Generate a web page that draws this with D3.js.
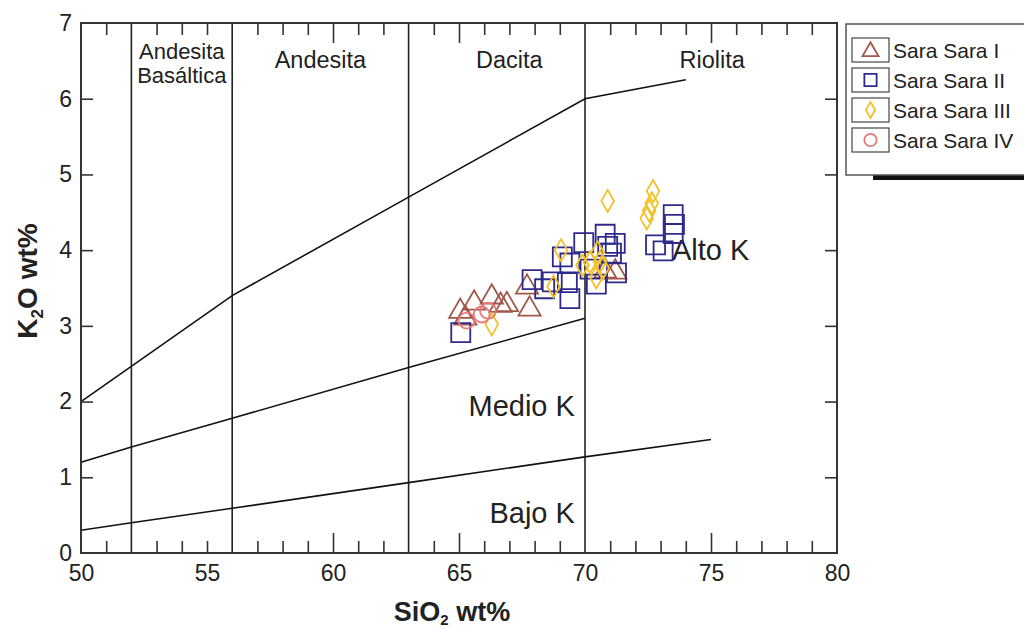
<!DOCTYPE html>
<html>
<head>
<meta charset="utf-8">
<script src="https://cdn.jsdelivr.net/npm/d3@7"></script>
<style>
  html, body { margin: 0; padding: 0; background: #fff; }
  svg { display: block; font-family: "Liberation Sans", Arial, sans-serif; }
</style>
</head>
<body>
<svg id="chart" width="1024" height="629"></svg>
<script>
// SiO2 vs K2O classification (Peccerillo & Taylor style fields)
const seriesNames = ["Sara Sara I", "Sara Sara II", "Sara Sara III", "Sara Sara IV"];

// [SiO2, K2O]
const saraSaraI = [
  [65.05, 3.19], [65.25, 3.10], [65.6, 3.30], [66.3, 3.38], [66.65, 3.27],
  [66.9, 3.28], [67.7, 3.51], [67.8, 3.22], [71.2, 3.71], [70.8, 3.72]
];
const saraSaraII = [
  [65.07, 2.91], [67.9, 3.61], [68.4, 3.49], [68.7, 3.58], [69.3, 3.57],
  [69.4, 3.36], [69.1, 3.91], [69.4, 3.83], [69.95, 4.10], [70.8, 4.21],
  [71.2, 4.09], [71.05, 3.96], [70.9, 4.05], [71.25, 3.70], [70.45, 3.55],
  [70.2, 3.75], [72.8, 4.07], [73.1, 3.99], [73.5, 4.47], [73.55, 4.34],
  [73.5, 4.22]
];
const saraSaraIII = [
  [66.3, 3.02], [68.75, 3.52], [69.05, 4.00], [69.9, 3.80], [70.2, 3.84],
  [70.5, 3.97], [70.45, 3.64], [70.7, 3.76], [70.6, 3.85], [70.9, 4.65],
  [72.7, 4.78], [72.65, 4.62], [72.55, 4.52], [72.45, 4.42]
];
const saraSaraIV = [
  [65.3, 3.07], [65.9, 3.15], [66.15, 3.20]
];

// Field boundaries
const shoshoniticLine = [[50, 2.0], [56, 3.4], [63, 4.7], [70, 6.0], [74, 6.25]];
const highKLine = [[50, 1.2], [52, 1.4], [56, 1.78], [63, 2.45], [70, 3.1]];
const lowKLine = [[50, 0.3], [52, 0.4], [56, 0.59], [63, 0.93], [70, 1.27], [75, 1.5]];
const rockDividers = [52, 56, 63, 70];

// Field names: [text lines, SiO2, K2O, anchor, font size]
const rockLabels = [
  [["Andesita", "Basáltica"], 54, 6.525, "middle", 22],
  [["Andesita"], 59.5, 6.41, "middle", 23.5],
  [["Dacita"], 67.0, 6.41, "middle", 23.5],
  [["Riolita"], 75.05, 6.41, "middle", 23.5]
];
const potassiumLabels = [
  ["Alto K", 73.45, 3.87, "start"],
  ["Medio K", 69.6, 1.81, "end"],
  ["Bajo K", 69.6, 0.40, "end"]
];

const xTickLabels = [50, 55, 60, 65, 70, 75, 80];
const yTickLabels = [0, 1, 2, 3, 4, 5, 6, 7];

const svg = d3.select("#chart");
const x = d3.scaleLinear().domain([50, 80]).range([81, 837]);
const y = d3.scaleLinear().domain([0, 7]).range([553, 23]);

const colors = ["#a0584a", "#2f2a8a", "#f2c12a", "#e8787a"];
const symbols = [
  d3.symbol().type(d3.symbolTriangle).size(215),
  d3.symbol().type(d3.symbolSquare).size(361),
  d3.symbol().type(d3.symbolDiamond).size(140),
  d3.symbol().type(d3.symbolCircle).size(200)
];
const legendSymbols = [
  d3.symbol().type(d3.symbolTriangle).size(110),
  d3.symbol().type(d3.symbolSquare).size(150),
  d3.symbol().type(d3.symbolDiamond).size(75),
  d3.symbol().type(d3.symbolCircle).size(120)
];

const plot = svg.append("g");

// rock-type dividers
plot.selectAll("line.divider").data(rockDividers).join("line")
  .attr("class", "divider")
  .attr("x1", d => x(d)).attr("x2", d => x(d))
  .attr("y1", y(0)).attr("y2", y(7))
  .attr("stroke", "#222").attr("stroke-width", 1.6);

// boundary curves
const line = d3.line().x(d => x(d[0])).y(d => y(d[1]));
[shoshoniticLine, highKLine, lowKLine].forEach(pts => {
  plot.append("path").attr("d", line(pts))
    .attr("fill", "none").attr("stroke", "#111").attr("stroke-width", 1.6);
});

// ticks pointing into the plot
const minorX = d3.range(51, 80).filter(v => !rockDividers.includes(v) && ![60, 65, 75].includes(v));
const majorX = [60, 65, 75];
const yTicks = d3.range(1, 7);

function tickAxis(axis, tr) {
  const g = plot.append("g").attr("transform", tr).call(axis);
  g.select(".domain").remove();
  g.selectAll(".tick line").attr("stroke", "#333").attr("stroke-width", 1.6);
  return g;
}
tickAxis(d3.axisBottom(x).tickValues(minorX).tickSizeInner(-12).tickSizeOuter(0).tickFormat(""), `translate(0,${y(0)})`);
tickAxis(d3.axisBottom(x).tickValues(majorX).tickSizeInner(-20).tickSizeOuter(0).tickFormat(""), `translate(0,${y(0)})`);
tickAxis(d3.axisTop(x).tickValues(minorX).tickSizeInner(-12).tickSizeOuter(0).tickFormat(""), `translate(0,${y(7)})`);
tickAxis(d3.axisTop(x).tickValues(majorX).tickSizeInner(-20).tickSizeOuter(0).tickFormat(""), `translate(0,${y(7)})`);
tickAxis(d3.axisLeft(y).tickValues(yTicks).tickSizeInner(-12).tickSizeOuter(0).tickFormat(""), `translate(${x(50)},0)`);
tickAxis(d3.axisRight(y).tickValues(yTicks).tickSizeInner(-12).tickSizeOuter(0).tickFormat(""), `translate(${x(80)},0)`);

// tick labels
const xl = plot.append("g").attr("transform", `translate(0,${y(0)})`)
  .call(d3.axisBottom(x).tickValues(xTickLabels).tickSize(0).tickPadding(12).tickFormat(d3.format("d")));
xl.select(".domain").remove();
xl.selectAll("text").attr("font-size", 23).attr("fill", "#222").attr("font-family", "Liberation Sans, Arial, sans-serif");

const yl = plot.append("g").attr("transform", `translate(${x(50)},0)`)
  .call(d3.axisLeft(y).tickValues(yTickLabels).tickSize(0).tickPadding(9).tickFormat(d3.format("d")));
yl.select(".domain").remove();
yl.selectAll("text").attr("font-size", 23).attr("fill", "#222").attr("font-family", "Liberation Sans, Arial, sans-serif");

// frame
plot.append("rect")
  .attr("x", x(50)).attr("y", y(7))
  .attr("width", x(80) - x(50)).attr("height", y(0) - y(7))
  .attr("fill", "none").attr("stroke", "#333").attr("stroke-width", 2);

// field labels
rockLabels.forEach(([lines, sx, ky, anchor, fs]) => {
  const t = plot.append("text")
    .attr("x", x(sx)).attr("y", y(ky))
    .attr("text-anchor", anchor).attr("font-size", fs).attr("fill", "#222");
  lines.forEach((s, i) => t.append("tspan").attr("x", x(sx)).attr("dy", i ? 24 : 0).text(s));
});
potassiumLabels.forEach(([s, sx, ky, anchor]) => {
  plot.append("text").attr("x", x(sx)).attr("y", y(ky))
    .attr("text-anchor", anchor).attr("font-size", 29).attr("fill", "#222").text(s);
});

// samples
const allSeries = [saraSaraI, saraSaraII, saraSaraIII, saraSaraIV];
allSeries.forEach((pts, i) => {
  plot.append("g").selectAll("path").data(pts).join("path")
    .attr("d", symbols[i])
    .attr("transform", d => `translate(${x(d[0])},${y(d[1])})`)
    .attr("fill", "none").attr("stroke", colors[i]).attr("stroke-width", 1.8);
});

// axis titles
const xt = svg.append("text").attr("x", 452).attr("y", 621)
  .attr("text-anchor", "middle").attr("font-size", 27).attr("font-weight", "bold").attr("fill", "#222");
xt.append("tspan").text("SiO");
xt.append("tspan").attr("font-size", 15).attr("dy", 4).text("2");
xt.append("tspan").attr("dy", -4).text(" wt%");

const yt = svg.append("text").attr("transform", "translate(37,281) rotate(-90)")
  .attr("text-anchor", "middle").attr("font-size", 28).attr("font-weight", "bold").attr("fill", "#222");
yt.append("tspan").text("K");
yt.append("tspan").attr("font-size", 17).attr("dy", 6).text("2");
yt.append("tspan").attr("dy", -6).text("O wt%");

// legend
const lg = svg.append("g");
lg.append("rect").attr("x", 873).attr("y", 175).attr("width", 160).attr("height", 5).attr("fill", "#111");
lg.append("rect").attr("x", 846).attr("y", 24).attr("width", 200).attr("height", 151)
  .attr("fill", "#fff").attr("stroke", "#555").attr("stroke-width", 1.5);
seriesNames.forEach((name, i) => {
  const cy = 50 + 30 * i;
  lg.append("rect").attr("x", 852).attr("y", cy - 12).attr("width", 37).attr("height", 24)
    .attr("fill", "#fff").attr("stroke", "#444").attr("stroke-width", 1.2);
  lg.append("path").attr("d", legendSymbols[i])
    .attr("transform", `translate(870.5,${cy + (i === 0 ? 1.5 : 0)})`)
    .attr("fill", "none").attr("stroke", colors[i]).attr("stroke-width", 1.8);
  lg.append("text").attr("x", 893).attr("y", cy + 8).attr("font-size", 21).attr("fill", "#222").text(name);
});
</script>
</body>
</html>
